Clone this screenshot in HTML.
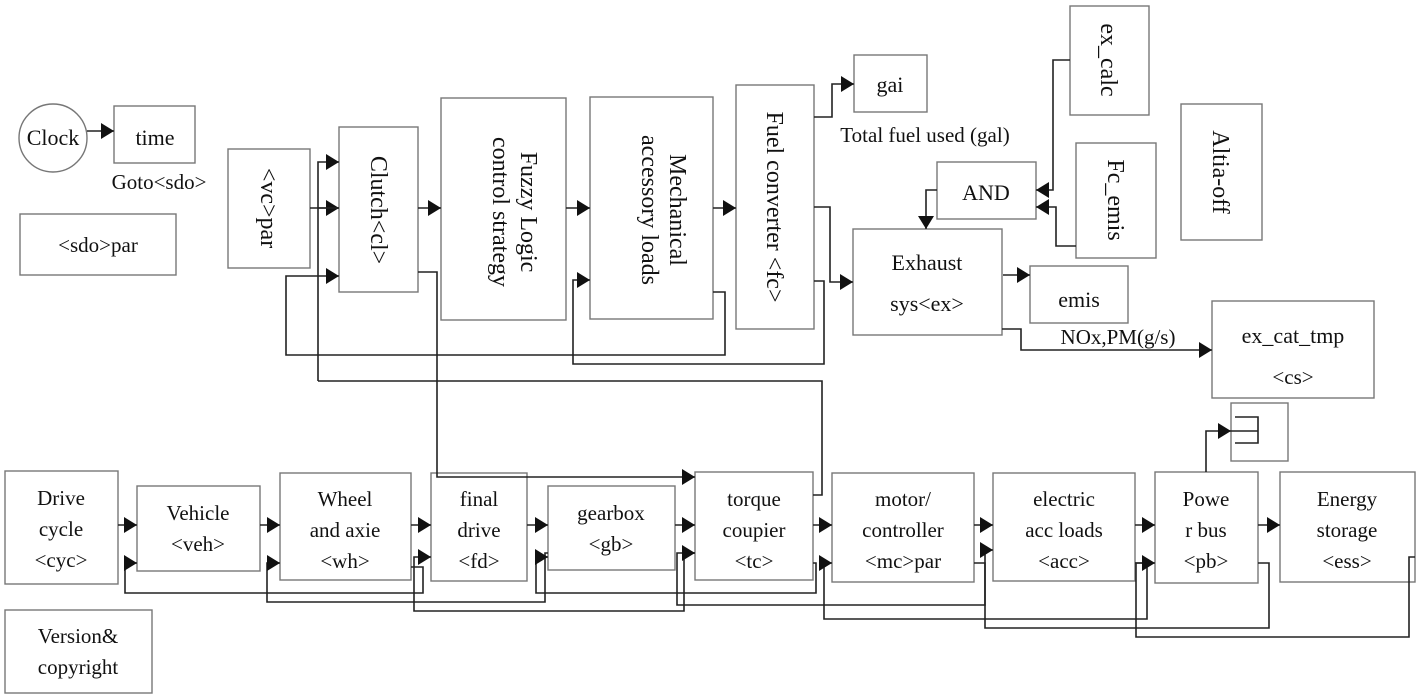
<!DOCTYPE html>
<html><head><meta charset="utf-8"><style>
body{margin:0;background:#fff}
svg{display:block}
text{font-family:"Liberation Serif",serif;font-size:21px;fill:#111}
.r{font-size:24px}
.b{fill:none;stroke:#777;stroke-width:1.4}
.l{fill:none;stroke:#222;stroke-width:1.6}
</style></head><body>
<svg width="1417" height="698" viewBox="0 0 1417 698" xmlns="http://www.w3.org/2000/svg">
<defs><marker id="a" markerWidth="13" markerHeight="16" refX="13" refY="8" orient="auto" markerUnits="userSpaceOnUse"><path d="M0,0L13,8L0,16z" fill="#111"/></marker></defs>
<ellipse class="b" cx="53" cy="138" rx="34" ry="34"/>
<rect class="b" x="114" y="106" width="81" height="57"/>
<rect class="b" x="20" y="214" width="156" height="61"/>
<rect class="b" x="228" y="149" width="82" height="119"/>
<rect class="b" x="339" y="127" width="79" height="165"/>
<rect class="b" x="441" y="98" width="125" height="222"/>
<rect class="b" x="590" y="97" width="123" height="222"/>
<rect class="b" x="736" y="85" width="78" height="244"/>
<rect class="b" x="854" y="55" width="73" height="57"/>
<rect class="b" x="1070" y="6" width="79" height="109"/>
<rect class="b" x="937" y="162" width="99" height="57"/>
<rect class="b" x="1076" y="143" width="80" height="115"/>
<rect class="b" x="1181" y="104" width="81" height="136"/>
<rect class="b" x="853" y="229" width="149" height="106"/>
<rect class="b" x="1030" y="266" width="98" height="57"/>
<rect class="b" x="1212" y="301" width="162" height="97"/>
<rect class="b" x="1231" y="403" width="57" height="58"/>
<rect class="b" x="5" y="471" width="113" height="113"/>
<rect class="b" x="137" y="486" width="123" height="85"/>
<rect class="b" x="280" y="473" width="131" height="107"/>
<rect class="b" x="431" y="473" width="96" height="108"/>
<rect class="b" x="548" y="486" width="127" height="84"/>
<rect class="b" x="695" y="472" width="118" height="108"/>
<rect class="b" x="832" y="473" width="142" height="109"/>
<rect class="b" x="993" y="473" width="142" height="108"/>
<rect class="b" x="1155" y="472" width="103" height="111"/>
<rect class="b" x="1280" y="472" width="135" height="110"/>
<rect class="b" x="5" y="610" width="147" height="83"/>
<g text-anchor="middle">
<text x="53" y="145" style="font-size:22px">Clock</text>
<text x="155" y="145" style="font-size:22px">time</text>
<text x="159" y="189">Goto&lt;sdo&gt;</text>
<text x="98" y="252">&lt;sdo&gt;par</text>
<text class="r" transform="translate(261,208) rotate(90)">&lt;vc&gt;par</text>
<text class="r" transform="translate(371,210) rotate(90)">Clutch&lt;cl&gt;</text>
<text class="r" transform="translate(521,212) rotate(90)">Fuzzy Logic</text>
<text class="r" transform="translate(493,212) rotate(90)">control strategy</text>
<text class="r" transform="translate(670,210) rotate(90)">Mechanical</text>
<text class="r" transform="translate(642,210) rotate(90)">accessory loads</text>
<text class="r" transform="translate(767,207) rotate(90)">Fuel converter &lt;fc&gt;</text>
<text class="r" transform="translate(1101,60) rotate(90)">ex_calc</text>
<text class="r" transform="translate(1108,200) rotate(90)">Fc_emis</text>
<text class="r" transform="translate(1213,172) rotate(90)">Altia-off</text>
<text x="890" y="92" style="font-size:22px">gai</text>
<text x="925" y="142">Total fuel used (gal)</text>
<text x="986" y="200" style="font-size:22px">AND</text>
<text x="927" y="270" style="font-size:22px">Exhaust</text>
<text x="927" y="311" style="font-size:22px">sys&lt;ex&gt;</text>
<text x="1079" y="307" style="font-size:22px">emis</text>
<text x="1118" y="344">NOx,PM(g/s)</text>
<text x="1293" y="343" style="font-size:22px">ex_cat_tmp</text>
<text x="1293" y="384">&lt;cs&gt;</text>
<text x="61" y="505">Drive</text><text x="61" y="536">cycle</text><text x="61" y="567">&lt;cyc&gt;</text>
<text x="198" y="520">Vehicle</text><text x="198" y="551">&lt;veh&gt;</text>
<text x="345" y="506">Wheel</text><text x="345" y="537">and axie</text><text x="345" y="568">&lt;wh&gt;</text>
<text x="479" y="506">final</text><text x="479" y="537">drive</text><text x="479" y="568">&lt;fd&gt;</text>
<text x="611" y="520">gearbox</text><text x="611" y="551">&lt;gb&gt;</text>
<text x="754" y="506">torque</text><text x="754" y="537">coupier</text><text x="754" y="568">&lt;tc&gt;</text>
<text x="903" y="506">motor/</text><text x="903" y="537">controller</text><text x="903" y="568">&lt;mc&gt;par</text>
<text x="1064" y="506">electric</text><text x="1064" y="537">acc loads</text><text x="1064" y="568">&lt;acc&gt;</text>
<text x="1206" y="506">Powe</text><text x="1206" y="537">r bus</text><text x="1206" y="568">&lt;pb&gt;</text>
<text x="1347" y="506">Energy</text><text x="1347" y="537">storage</text><text x="1347" y="568">&lt;ess&gt;</text>
<text x="78" y="643">Version&amp;</text><text x="78" y="674">copyright</text>
</g>
<g class="l">
<path d="M87,131H114" marker-end="url(#a)"/>
<path d="M310,208H339" marker-end="url(#a)"/>
<path d="M318,381V162H339" marker-end="url(#a)"/>
<path d="M318,208H339"/>
<path d="M418,208H441" marker-end="url(#a)"/>
<path d="M566,208H590" marker-end="url(#a)"/>
<path d="M713,208H736" marker-end="url(#a)"/>
<path d="M713,292H725V355H286V276H339" marker-end="url(#a)"/>
<path d="M814,281H824V364H573V280H590" marker-end="url(#a)"/>
<path d="M814,117H832V84H854" marker-end="url(#a)"/>
<path d="M814,207H830V282H853" marker-end="url(#a)"/>
<path d="M418,272H437V477H695" marker-end="url(#a)"/>
<path d="M813,495H822V381H318"/>
<path d="M1070,60H1053V190H1036" marker-end="url(#a)"/>
<path d="M1076,246H1056V207H1036" marker-end="url(#a)"/>
<path d="M937,190H926V229" marker-end="url(#a)"/>
<path d="M1003,275H1030" marker-end="url(#a)"/>
<path d="M1002,329H1021V350H1212" marker-end="url(#a)"/>
<path d="M1206,472V431H1231" marker-end="url(#a)"/>
<path d="M1235,417H1258V443H1235M1231,431H1258"/>
<path d="M118,525H137" marker-end="url(#a)"/>
<path d="M260,525H280" marker-end="url(#a)"/>
<path d="M411,525H431" marker-end="url(#a)"/>
<path d="M527,525H548" marker-end="url(#a)"/>
<path d="M675,525H695" marker-end="url(#a)"/>
<path d="M813,525H832" marker-end="url(#a)"/>
<path d="M974,525H993" marker-end="url(#a)"/>
<path d="M1135,525H1155" marker-end="url(#a)"/>
<path d="M1258,525H1280" marker-end="url(#a)"/>
<path d="M411,567H423V593H125V563H137" marker-end="url(#a)"/>
<path d="M548,553H545V602H267V563H280" marker-end="url(#a)"/>
<path d="M695,553H684V611H414V557H431" marker-end="url(#a)"/>
<path d="M813,563H816V593H536V557H548" marker-end="url(#a)"/>
<path d="M974,563H985V605H677V553H695" marker-end="url(#a)"/>
<path d="M1135,563H1147V619H824V563H832" marker-end="url(#a)"/>
<path d="M1258,563H1269V628H985V550H993" marker-end="url(#a)"/>
<path d="M1415,557H1409V637H1136V563H1155" marker-end="url(#a)"/>
</g>
</svg>
</body></html>
